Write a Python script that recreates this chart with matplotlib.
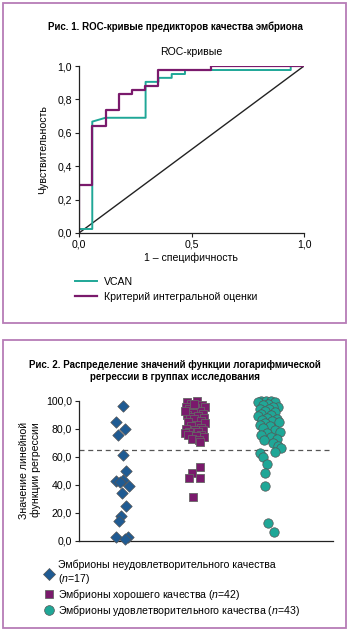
import matplotlib
matplotlib.use('Agg')
import matplotlib.pyplot as plt
from matplotlib.patches import Rectangle
from matplotlib.lines import Line2D
import numpy as np

plt.rcParams['font.family'] = ['Liberation Sans', 'DejaVu Sans']
plt.rcParams['mathtext.fontset'] = 'custom'
plt.rcParams['mathtext.it'] = 'Liberation Sans:italic'
plt.rcParams['mathtext.rm'] = 'Liberation Sans'

# ROC curves (1 - specificity, sensitivity)
vcan_fpr = [0.0, 0.0, 0.059, 0.059, 0.118, 0.296, 0.296, 0.353, 0.353, 0.412, 0.412, 0.471, 0.471, 0.941, 0.941, 1.0]
vcan_tpr = [0.0, 0.024, 0.024, 0.667, 0.69, 0.69, 0.905, 0.905, 0.929, 0.929, 0.952, 0.952, 0.976, 0.976, 1.0, 1.0]
integ_fpr = [0.0, 0.0, 0.059, 0.059, 0.118, 0.118, 0.176, 0.176, 0.235, 0.235, 0.294, 0.294, 0.353, 0.353, 0.588, 0.588, 1.0]
integ_tpr = [0.0, 0.286, 0.286, 0.643, 0.643, 0.738, 0.738, 0.833, 0.833, 0.857, 0.857, 0.881, 0.881, 0.976, 0.976, 1.0, 1.0]

# regression function values by group (jitter in px)
bad_vals = [96.7, 85.2, 79.7, 75.7, 61.6, 50.1, 43.0, 43.4, 39.4, 42.0, 33.9, 24.8, 17.7, 14.3, 2.6, 2.9, 1.0]
bad_jit = [0, -6.7, 1.7, -5, 0, 3.3, -6.7, 0, 6, -3, -1, 3.3, -1.7, -4, -6.7, 4.7, 2]
good_vals = [99.5, 100, 98, 97, 96, 95.5, 95, 94, 93, 91.5, 91, 90, 89, 88.5, 88, 87, 86, 85, 84,
             83, 82, 81, 80, 79.5, 79, 78, 77.5, 77, 76, 75.5, 75, 74, 73, 72, 71, 97.5, 92.5,
             53, 48.7, 44.6, 44.6, 31.5]
good_jit = [-8, 2, -4, 7, 10, -9, 0, -6, 5, -2, 8, -8, 3, -5, 9, -1, 6, -7, 10,
            2, -4, 6, -9, 0, 8, -6, 3, -10, 6, -7, 1, 9, -3, 4, 5, -1, -10,
            5, -3, -6, 5, -2]
fair_vals = [100, 100, 100, 99.5, 99, 98, 97, 96, 95.5, 94.5, 94, 93, 92, 91, 90, 89, 88, 87,
             86.5, 85.5, 85, 84, 83, 82, 80.5, 79.5, 78, 77, 76, 74.5, 73, 72, 70, 68, 66.5,
             63.2, 62.5, 60, 55, 48.7, 39.4, 12.4, 6]
fair_jit = [-6, -1, 4, -9, 8, 1, -4, 11, 6, -7, 2, -2, 8, -6, 4, -9, 0, 10,
            -5, 5, 12, -2, -7, 3, -4, 8, 13, 0, -6, 4, 10, -3, 6, 11, 14,
            8, -7, -4, 0, -2, -2, 1, 7]
cutoff = 65

teal = '#1fa797'
purple = '#7a1a6c'
blue = '#1f5b93'
border = '#b67cb6'

W, H = 350, 631
fig = plt.figure(figsize=(3.5, 6.31), dpi=100)

def fx(px):
    return px / W

def fy(py):
    return 1 - py / H

# panel borders
for top, bot in [(3, 323), (340, 628)]:
    fig.patches.append(Rectangle((fx(3), fy(bot)), fx(343), (bot - top) / H,
                                 transform=fig.transFigure, fill=False,
                                 edgecolor=border, linewidth=1.3))

fs = 7.6

# ---- Fig 1: ROC ----
fig.text(fx(175), fy(27), 'Рис. 1. ROC-кривые предикторов качества эмбриона',
         ha='center', va='center', fontsize=7, fontweight='bold')
fig.text(fx(191), fy(52), 'ROC-кривые', ha='center', va='center', fontsize=fs)

ax1 = fig.add_axes([fx(79), fy(233), fx(304 - 79), (233 - 66) / H])
ax1.plot([0, 1], [0, 1], color='#222222', linewidth=1.0)
ax1.plot(vcan_fpr, vcan_tpr, color=teal, linewidth=1.4, label='VCAN')
ax1.plot(integ_fpr, integ_tpr, color=purple, linewidth=1.6, label='Критерий интегральной оценки')
ax1.set_xlim(0, 1)
ax1.set_ylim(0, 1)
ax1.set_xticks([0, 0.5, 1.0])
ax1.set_xticklabels(['0,0', '0,5', '1,0'])
ax1.set_yticks([0, 0.2, 0.4, 0.6, 0.8, 1.0])
ax1.set_yticklabels(['0,0', '0,2', '0,4', '0,6', '0,8', '1,0'])
ax1.spines['top'].set_visible(False)
ax1.spines['right'].set_visible(False)
for s in ['left', 'bottom']:
    ax1.spines[s].set_linewidth(0.9)
    ax1.spines[s].set_color('#222222')
ax1.tick_params(labelsize=fs, length=3, width=0.8, pad=2, color='#222222')
fig.text(fx(191), fy(258), '1 – специфичность', ha='center', va='center', fontsize=fs)
fig.text(fx(43), fy(150), 'Чувствительность', ha='center', va='center', fontsize=fs, rotation=90)
ax1.legend(loc='upper left', bbox_to_anchor=(fx(75), fy(277)), bbox_transform=fig.transFigure,
           frameon=False, fontsize=fs, handlelength=2.1, handletextpad=0.6,
           labelspacing=0.45, borderpad=0, borderaxespad=0)

# ---- Fig 2: distribution ----
fig.text(fx(175), fy(371), 'Рис. 2. Распределение значений функции логарифмической\nрегрессии в группах исследования',
         ha='center', va='center', fontsize=7, fontweight='bold', linespacing=1.15)

ax2 = fig.add_axes([fx(79), fy(540.7), fx(333 - 79), (540.7 - 401) / H])
px_per_unit = 72.0
ax2.scatter(1 + np.array(bad_jit) / px_per_unit, bad_vals, marker='D', s=34,
            color=blue, edgecolors='#555555', linewidths=0.5, zorder=3, clip_on=False)
ax2.scatter(2 + np.array(good_jit) / px_per_unit, good_vals, marker='s', s=28,
            color=purple, edgecolors='#666666', linewidths=0.6, zorder=3, clip_on=False)
ax2.scatter(3 + np.array(fair_jit) / px_per_unit, fair_vals, marker='o', s=46,
            color=teal, edgecolors='#555555', linewidths=0.5, zorder=3, clip_on=False)
ax2.axhline(cutoff, color='#555555', linestyle=(0, (4, 3)), linewidth=0.9, zorder=1)
ax2.set_xlim(1 - 44 / px_per_unit, 3 + 66 / px_per_unit)
ax2.set_ylim(0, 100)
ax2.set_xticks([])
ax2.set_yticks([0, 20, 40, 60, 80, 100])
ax2.set_yticklabels(['0,0', '20,0', '40,0', '60,0', '80,0', '100,0'])
ax2.spines['top'].set_visible(False)
ax2.spines['right'].set_visible(False)
for s in ['left', 'bottom']:
    ax2.spines[s].set_linewidth(0.9)
    ax2.spines[s].set_color('#222222')
ax2.tick_params(labelsize=fs, length=3, width=0.8, pad=2, color='#222222')
fig.text(fx(30), fy(470), 'Значение линейной\nфункции регрессии', ha='center', va='center',
         fontsize=fs, rotation=90, linespacing=1.25)

handles = [
    Line2D([], [], linestyle='none', marker='D', markersize=6, color=blue,
           markeredgecolor='#555555', markeredgewidth=0.5),
    Line2D([], [], linestyle='none', marker='s', markersize=5.5, color=purple,
           markeredgecolor='#666666', markeredgewidth=0.6),
    Line2D([], [], linestyle='none', marker='o', markersize=7, color=teal,
           markeredgecolor='#555555', markeredgewidth=0.5),
]
labels = ['Эмбрионы неудовлетворительного качества\n($\\it{n}$=17)',
          'Эмбрионы хорошего качества ($\\it{n}$=42)',
          'Эмбрионы удовлетворительного качества ($\\it{n}$=43)']
fig.legend(handles, labels, loc='upper left', bbox_to_anchor=(fx(45), fy(560)),
           frameon=False, fontsize=fs, handlelength=0.8, handletextpad=0.4,
           labelspacing=0.05, borderpad=0, borderaxespad=0)

fig.savefig('out.png', dpi=100)
